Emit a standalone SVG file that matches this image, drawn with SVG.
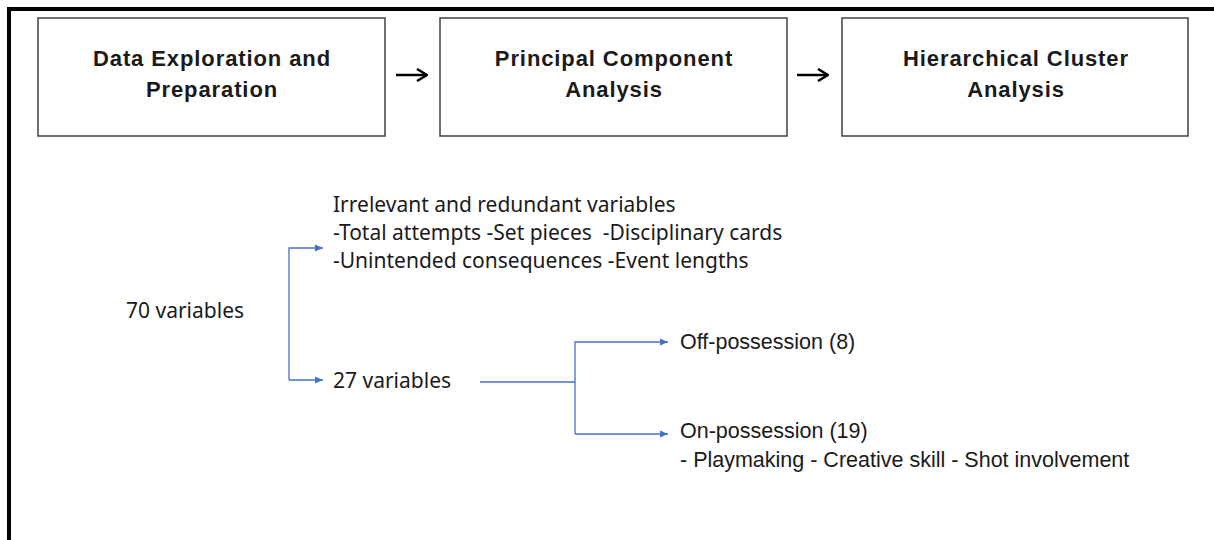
<svg xmlns="http://www.w3.org/2000/svg" width="1214" height="540" viewBox="0 0 1214 540">
  <style>
    .frame { fill: none; stroke: #000; stroke-width: 4; }
    .box { fill: #fff; stroke: #404040; stroke-width: 1.5; }
    .title { font-family: "Liberation Sans", Arial, sans-serif; font-weight: bold; font-size: 22px; letter-spacing: 0.9px; fill: #1a1a1a; text-anchor: middle; }
    .body { font-family: "Noto Sans", "Open Sans", sans-serif; font-size: 21px; fill: #1a1a1a; }
    .cond { font-family: "Liberation Sans", Arial, sans-serif; font-size: 21.5px; fill: #1a1a1a; }
    .flow { fill: none; stroke: #000; stroke-width: 2.5; }
    .link { fill: none; stroke: #4472C4; stroke-width: 1.3; }
  </style>
  <defs>
    <marker id="chev" viewBox="0 0 12 14" refX="11" refY="7" markerWidth="12" markerHeight="14" markerUnits="userSpaceOnUse" orient="auto">
      <path d="M1,1 L11,7 L1,13" fill="none" stroke="#000" stroke-width="2.5"/>
    </marker>
    <marker id="tri" viewBox="0 0 8 8" refX="8" refY="4" markerWidth="8" markerHeight="8" markerUnits="userSpaceOnUse" orient="auto">
      <path d="M0,0.5 L8,4 L0,7.5 Z" fill="#4472C4"/>
    </marker>
  </defs>

  <!-- outer frame (top and left edges) -->
  <path class="frame" d="M9,540 V9 H1214"/>

  <!-- process stages -->
  <g id="stage-data-exploration">
    <rect class="box" x="38" y="18" width="347" height="118"/>
    <text class="title" x="212" y="66">Data Exploration and</text>
    <text class="title" x="212" y="97">Preparation</text>
  </g>
  <g id="stage-pca">
    <rect class="box" x="440" y="18" width="347" height="118"/>
    <text class="title" x="614" y="66">Principal Component</text>
    <text class="title" x="614" y="97">Analysis</text>
  </g>
  <g id="stage-hca">
    <rect class="box" x="842" y="18" width="346" height="118"/>
    <text class="title" x="1016" y="66">Hierarchical Cluster</text>
    <text class="title" x="1016" y="97">Analysis</text>
  </g>

  <!-- variable breakdown -->
  <g id="all-variables">
    <text class="body" x="126" y="318">70 variables</text>
  </g>
  <g id="removed-variables">
    <text class="body" x="333" y="212">Irrelevant and redundant variables</text>
    <text class="body" x="333" y="240" xml:space="preserve">-Total attempts -Set pieces  -Disciplinary cards</text>
    <text class="body" x="333" y="268">-Unintended consequences -Event lengths</text>
  </g>
  <g id="kept-variables">
    <text class="body" x="333" y="388">27 variables</text>
  </g>
  <g id="off-possession">
    <text class="cond" x="680" y="349">Off-possession (8)</text>
  </g>
  <g id="on-possession">
    <text class="cond" x="680" y="438">On-possession (19)</text>
    <text class="cond" x="680" y="467">- Playmaking - Creative skill - Shot involvement</text>
  </g>

  <!-- connectors -->
  <g id="connectors">
    <path class="flow" d="M396,75 H427" marker-end="url(#chev)"/>
    <path class="flow" d="M797,75 H828" marker-end="url(#chev)"/>
    <path class="link" d="M289,380 V248 H323" marker-end="url(#tri)"/>
    <path class="link" d="M289,380 H323" marker-end="url(#tri)"/>
    <path class="link" d="M480,382 H575"/>
    <path class="link" d="M575,434 V342 H668" marker-end="url(#tri)"/>
    <path class="link" d="M575,434 H668" marker-end="url(#tri)"/>
  </g>
</svg>
